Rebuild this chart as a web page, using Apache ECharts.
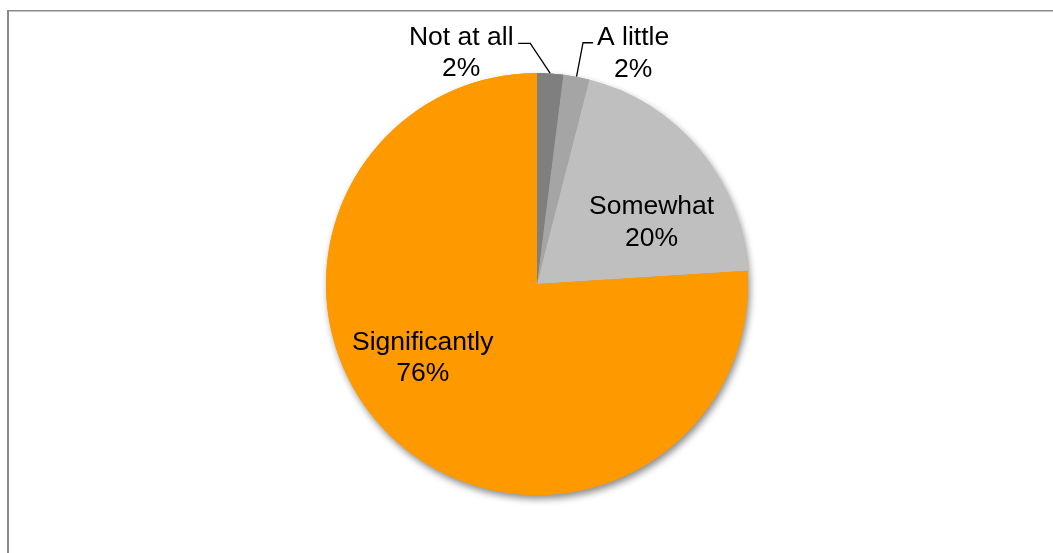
<!DOCTYPE html>
<html>
<head>
<meta charset="utf-8">
<script src="https://cdn.jsdelivr.net/npm/echarts@6/dist/echarts.min.js"></script>
<style>
  html, body { margin: 0; padding: 0; background: #fff; }
  #chart { width: 1053px; height: 553px; }
</style>
</head>
<body>
<div id="chart"></div>
<script>
// Survey answers, shares in percent
const categories = ['Not at all', 'A little', 'Somewhat', 'Significantly'];
const shares = [2, 2, 20, 76];
const sliceColors = ['#7f7f7f', '#a5a5a5', '#bfbfbf', '#ff9900'];

const FONT = 'Arial, "Liberation Sans", sans-serif';
const CENTER = [537, 284];
const RADIUS = 211;

// Label placement, relative to the library's own label anchor
// inside labels: shift [dx, dy]; outside labels: elbow, line end and text centre
// relative to the point where the leader leaves the slice edge
const insideShift = { 2: [31, 8], 3: [-40, -5] };
const outsideGuide = {
  0: { elbow: [-20, -30], end: [-32, -30], text: [-89, -20] },
  1: { elbow: [6.5, -34], end: [16.5, -34], text: [56.5, -23] }
};

const pieData = categories.map((name, i) => ({
  name: name,
  value: shares[i],
  itemStyle: { color: sliceColors[i] },
  label: { position: outsideGuide[i] ? 'outside' : 'inside' }
}));

const chart = echarts.init(document.getElementById('chart'), null, { renderer: 'canvas' });

chart.setOption({
  animation: false,
  backgroundColor: '#ffffff',
  graphic: [
    { type: 'line', shape: { x1: 7, y1: 10.75, x2: 1053, y2: 10.75 },
      style: { stroke: '#8a8a8a', lineWidth: 1.5 }, silent: true },
    { type: 'line', shape: { x1: 8, y1: 10, x2: 8, y2: 553 },
      style: { stroke: '#8a8a8a', lineWidth: 2 }, silent: true }
  ],
  series: [
    {
      // soft drop shadow under the whole pie
      type: 'pie',
      silent: true,
      z: 1,
      center: CENTER,
      radius: RADIUS,
      startAngle: 90,
      clockwise: true,
      label: { show: false },
      labelLine: { show: false },
      data: pieData.map(d => ({
        name: d.name,
        value: d.value,
        itemStyle: {
          color: d.itemStyle.color,
          shadowBlur: 7,
          shadowOffsetX: 2,
          shadowOffsetY: 4,
          shadowColor: 'rgba(0,0,0,0.45)'
        }
      }))
    },
    {
      type: 'pie',
      z: 2,
      center: CENTER,
      radius: RADIUS,
      startAngle: 90,
      clockwise: true,
      avoidLabelOverlap: false,
      itemStyle: { borderWidth: 0 },
      label: {
        show: true,
        color: '#000',
        fontFamily: FONT,
        fontSize: 26.5,
        lineHeight: 31.5,
        align: 'center',
        formatter: p => p.name + '\n' + p.value + '%'
      },
      labelLine: {
        show: true,
        length: 10,
        length2: 10,
        lineStyle: { color: '#000', width: 1.3 }
      },
      labelLayout: function (params) {
        const i = params.dataIndex;
        if (insideShift[i]) {
          return { dx: insideShift[i][0], dy: insideShift[i][1] };
        }
        const g = outsideGuide[i];
        if (g && params.labelLinePoints) {
          const p0 = params.labelLinePoints[0];
          return {
            x: p0[0] + g.text[0],
            y: p0[1] + g.text[1],
            align: 'center',
            verticalAlign: 'middle',
            labelLinePoints: [
              [p0[0], p0[1]],
              [p0[0] + g.elbow[0], p0[1] + g.elbow[1]],
              [p0[0] + g.end[0], p0[1] + g.end[1]]
            ]
          };
        }
        return {};
      },
      data: pieData
    }
  ]
});
</script>
</body>
</html>
